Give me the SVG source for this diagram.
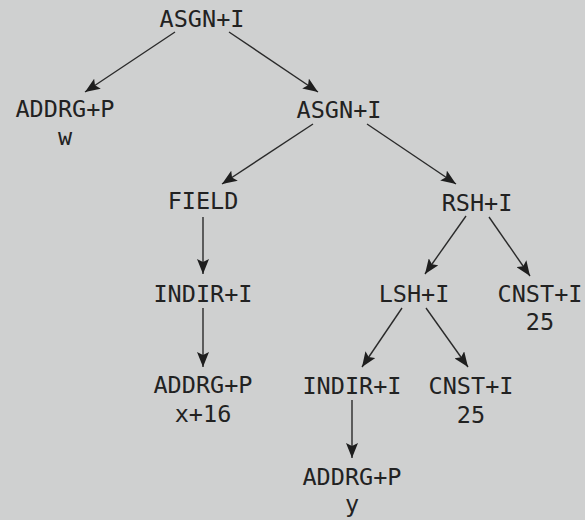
<svg xmlns="http://www.w3.org/2000/svg" width="585" height="520" viewBox="0 0 585 520">
<style>
text{font-family:"DejaVu Sans Mono","Liberation Mono",monospace;font-size:23.5px;fill:#222;text-anchor:middle}
.e line{stroke:#2a2a2a;stroke-width:1.4;marker-end:url(#ah)}
</style>
<defs>
<marker id="ah" markerUnits="userSpaceOnUse" markerWidth="16" markerHeight="12" refX="15" refY="6" orient="auto" viewBox="0 0 16 12">
<path d="M0,0 L15,6 L0,12 L3,6 Z" fill="#1e1e1e"/>
</marker>
</defs>
<rect width="585" height="520" fill="#cfd0d0"/>
<g class="e" id="edges">
<line x1="175" y1="32" x2="85" y2="92"/>
<line x1="229" y1="32" x2="318" y2="92"/>
<line x1="313" y1="124" x2="222" y2="184"/>
<line x1="367" y1="124" x2="456" y2="184"/>
<line x1="203" y1="217" x2="203" y2="274"/>
<line x1="203" y1="308" x2="203" y2="367"/>
<line x1="466" y1="216" x2="425" y2="274"/>
<line x1="489" y1="217" x2="530" y2="276"/>
<line x1="402" y1="308" x2="362" y2="367"/>
<line x1="426" y1="308" x2="468" y2="367"/>
<line x1="352" y1="400" x2="352" y2="458"/>
</g>
<g id="n1"><text x="202" y="27">ASGN+I</text></g>
<g id="n2"><text x="65" y="117">ADDRG+P</text><text x="65" y="145">w</text></g>
<g id="n3"><text x="339" y="118">ASGN+I</text></g>
<g id="n4"><text x="203" y="209">FIELD</text></g>
<g id="n5"><text x="477" y="211">RSH+I</text></g>
<g id="n6"><text x="203" y="302">INDIR+I</text></g>
<g id="n7"><text x="203" y="393">ADDRG+P</text><text x="203" y="422">x+16</text></g>
<g id="n8"><text x="414" y="302">LSH+I</text></g>
<g id="n9"><text x="540" y="302">CNST+I</text><text x="540" y="330">25</text></g>
<g id="n10"><text x="352" y="394">INDIR+I</text></g>
<g id="n11"><text x="471" y="394">CNST+I</text><text x="471" y="423">25</text></g>
<g id="n12"><text x="352" y="485">ADDRG+P</text><text x="352" y="512">y</text></g>
</svg>
